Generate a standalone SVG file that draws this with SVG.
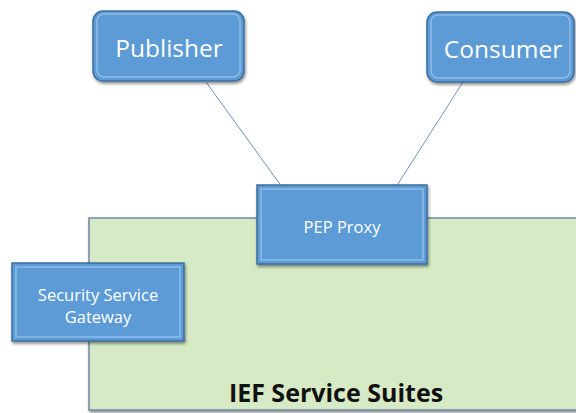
<svg xmlns="http://www.w3.org/2000/svg" width="576" height="413" viewBox="0 0 576 413">
<defs>
<style>
.box{fill:#5b9bd5;stroke:#3e6f9e;stroke-width:1.5}
.hl{fill:none;stroke:#8dbce8;stroke-width:1.5}
.lbl{fill:#ffffff;font-family:"Open Sans","Liberation Sans",sans-serif;text-anchor:middle}
.conn{stroke:#6a94c0;stroke-width:1;fill:none}
</style>
<filter id="sh" x="-10%" y="-10%" width="130%" height="140%">
<feGaussianBlur in="SourceAlpha" stdDeviation="1.5"/>
<feOffset dx="1" dy="2" result="b"/>
<feComponentTransfer><feFuncA type="linear" slope="0.45"/></feComponentTransfer>
<feMerge><feMergeNode/><feMergeNode in="SourceGraphic"/></feMerge>
</filter>
</defs>
<rect width="576" height="413" fill="#ffffff"/>
<g id="ief">
<rect x="89" y="218" width="492" height="192" fill="#d6eac5" stroke="#6d8aa6" stroke-width="1.5" filter="url(#sh)"/>
<text x="336" y="402" font-family="'Open Sans','Liberation Sans',sans-serif" font-weight="bold" font-size="25" text-anchor="middle" fill="#111">IEF Service Suites</text>
</g>
<g id="connectors">
<line class="conn" x1="206" y1="82" x2="282" y2="187"/>
<line class="conn" x1="463" y1="82" x2="396" y2="187"/>
</g>
<g id="publisher">
<rect class="box" x="93" y="11" width="151" height="70" rx="10" filter="url(#sh)"/>
<rect class="hl" x="97" y="14" width="143" height="63" rx="7"/>
<text class="lbl" x="169" y="57" font-size="24.5">Publisher</text>
</g>
<g id="consumer">
<rect class="box" x="427" y="12" width="147" height="70" rx="10" filter="url(#sh)"/>
<rect class="hl" x="431" y="15" width="139" height="63" rx="7"/>
<text class="lbl" x="503" y="58" font-size="24.5">Consumer</text>
</g>
<g id="pep">
<rect class="box" x="257" y="185" width="170" height="79" filter="url(#sh)"/>
<rect class="hl" x="261" y="189" width="162" height="71"/>
<text class="lbl" x="342" y="233" font-size="16.5">PEP Proxy</text>
</g>
<g id="ssg">
<rect class="box" x="12" y="263" width="172" height="78" filter="url(#sh)"/>
<rect class="hl" x="16" y="267" width="164" height="70"/>
<text class="lbl" x="98" y="301" font-size="16.5">Security Service</text>
<text class="lbl" x="98" y="323" font-size="16.5">Gateway</text>
</g>
</svg>
